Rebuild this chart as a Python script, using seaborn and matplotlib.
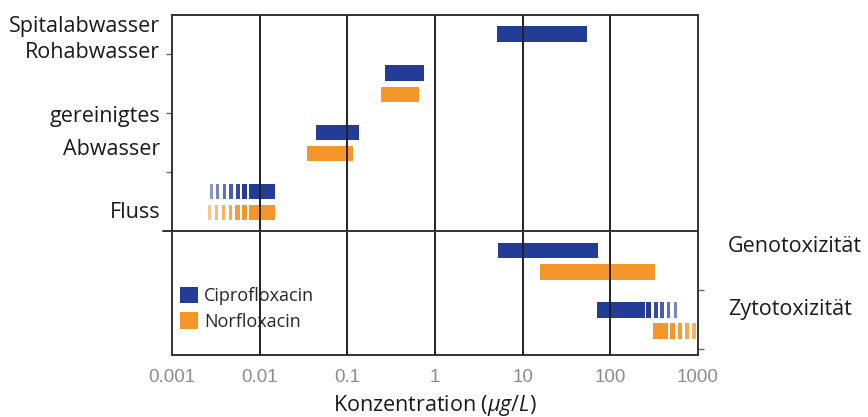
import numpy as np
import matplotlib
matplotlib.use("Agg")
import matplotlib.pyplot as plt
from matplotlib.patches import Patch
import matplotlib.transforms as mtransforms
import seaborn as sns

# --- data: concentration ranges in µg/L ---------------------------------
kategorien = ["Spitalabwasser", "Rohabwasser", "gereinigtes Abwasser",
              "Fluss", "Genotoxizität", "Zytotoxizität"]

# full measured range
cipro_min = [5.1, 0.27, 0.044, 0.0027, 5.2, 70]
cipro_max = [54, 0.74, 0.135, 0.015, 72, 570]
# well-established part of the range (drawn solid, the rest striped)
cipro_sicher_min = [5.1, 0.27, 0.044, 0.0075, 5.2, 70]
cipro_sicher_max = [54, 0.74, 0.135, 0.015, 72, 250]

norflox_min = [np.nan, 0.24, 0.035, 0.0026, 15.6, 310]
norflox_max = [np.nan, 0.65, 0.115, 0.015, 320, 950]
norflox_sicher_min = [np.nan, 0.24, 0.035, 0.0075, 15.6, 310]
norflox_sicher_max = [np.nan, 0.65, 0.115, 0.015, 320, 460]

x_ticks = [0.001, 0.01, 0.1, 1, 10, 100, 1000]
x_ticklabels = ["0.001", "0.01", "0.1", "1", "10", "100", "1000"]
legend_labels = ["Ciprofloxacin", "Norfloxacin"]

# --- layout ---------------------------------------------------------------
ROW = [0, 2, 5, 8, 11, 14]          # row of the ciprofloxacin bar per category
NOR_OFFSET = 1.07                    # norfloxacin bar sits just below
BAR_H = 0.80
BLUE = "#233c96"
ORANGE = "#f4962a"
TXT = "#1a1a1a"
LBL_SIZE = 15.5

sns.set_theme(style="white")
plt.rcParams["font.family"] = ["Open Sans", "DejaVu Sans"]
plt.rcParams["mathtext.fontset"] = "custom"
plt.rcParams["mathtext.rm"] = "Open Sans"
plt.rcParams["mathtext.it"] = "Open Sans:italic"

fig = plt.figure(figsize=(8.68, 4.17), dpi=100)
ax = fig.add_axes([172 / 868, 62 / 417, 526 / 868, 340 / 417])
ax.set_xscale("log")
ax.set_xlim(0.001, 1000)
ax.set_ylim(16.3, -0.96)


def draw_range(y, lo, hi, s_lo, s_hi, color):
    """Solid bar for the established range, fading stripes for the rest."""
    if np.isnan(lo):
        return
    ax.barh(y, s_hi - s_lo, left=s_lo, height=BAR_H, color=color, lw=0, zorder=3)
    fills = [0.80, 0.66, 0.58, 0.52, 0.48, 0.45]
    alphas = [1.0, 0.92, 0.82, 0.72, 0.62, 0.52]
    for a, b, side in [(lo, s_lo, "low"), (s_hi, hi, "high")]:
        if b / a < 1.01:
            continue
        n = max(2, int(round(np.log10(b / a) / 0.075)))
        edges = np.geomspace(a, b, n + 1)
        for i in range(n):
            # i = 0 is the cell next to the solid part
            f = fills[min(i, 5)]
            if side == "low":
                c0, c1 = edges[n - 1 - i], edges[n - i]
                s0, s1 = c0, c0 * (c1 / c0) ** f
            else:
                c0, c1 = edges[i], edges[i + 1]
                s0, s1 = c0 * (c1 / c0) ** (1 - f), c1
            ax.barh(y, s1 - s0, left=s0, height=BAR_H, color=color,
                    alpha=alphas[min(i, 5)], lw=0, zorder=3)


for k in range(len(kategorien)):
    draw_range(ROW[k], cipro_min[k], cipro_max[k],
               cipro_sicher_min[k], cipro_sicher_max[k], BLUE)
    draw_range(ROW[k] + NOR_OFFSET, norflox_min[k], norflox_max[k],
               norflox_sicher_min[k], norflox_sicher_max[k], ORANGE)

# decade lines and the divider between occurrence and toxicity
for xv in x_ticks[1:-1]:
    ax.axvline(xv, color="#222222", lw=1.4, zorder=4)
ax.axhline(10, xmin=-0.017, xmax=1, color="#333333", lw=1.4, zorder=4, clip_on=False)

for sp in ax.spines.values():
    sp.set_color("#333333")
    sp.set_linewidth(1.4)
    sp.set_visible(True)

ax.set_xticks(x_ticks)
ax.set_xticklabels(x_ticklabels, family=["Liberation Sans", "DejaVu Sans"],
                   color="#8c8c8c", fontsize=13.5)
ax.xaxis.set_minor_locator(matplotlib.ticker.NullLocator())
ax.tick_params(axis="x", length=0, pad=10)

ax.set_yticks([1, 4, 7])
ax.set_yticklabels([])
ax.tick_params(axis="y", left=True, length=4, width=1, color="#666666", direction="out")
ax2 = ax.twinx()
ax2.set_ylim(ax.get_ylim())
ax2.set_yticks([13, 16])
ax2.set_yticklabels([])
ax2.tick_params(axis="y", right=True, length=4, width=1, color="#666666", direction="out")
for sp in ax2.spines.values():
    sp.set_visible(False)

fig.text(435 / 868, 1 - 405 / 417, r"Konzentration ($\mu g/L$)",
         fontsize=LBL_SIZE, color=TXT, ha="center", va="center")

# category labels beside the axes
trans = mtransforms.blended_transform_factory(ax.transAxes, ax.transData)
left_lbl = [("Spitalabwasser", -0.36), ("Rohabwasser", 0.93),
            ("gereinigtes", 4.21), ("Abwasser", 5.89), ("Fluss", 9.09)]
for txt, yv in left_lbl:
    ax.text(-0.0228, yv, txt, transform=trans, ha="right", va="center",
            fontsize=LBL_SIZE, color=TXT)
right_lbl = [("Genotoxizität", 10.8), ("Zytotoxizität", 14.0)]
for txt, yv in right_lbl:
    ax.text(1.057, yv, txt, transform=trans, ha="left", va="center",
            fontsize=LBL_SIZE, color=TXT)

handles = [Patch(facecolor=BLUE, lw=0), Patch(facecolor=ORANGE, lw=0)]
ax.legend(handles, legend_labels, loc="upper left", bbox_to_anchor=(0.016, 0.2),
          frameon=False, fontsize=13, handlelength=1.0, handleheight=1.0,
          handletextpad=0.3, labelspacing=0.4, borderpad=0, borderaxespad=0)

fig.savefig("out.png", dpi=100)
